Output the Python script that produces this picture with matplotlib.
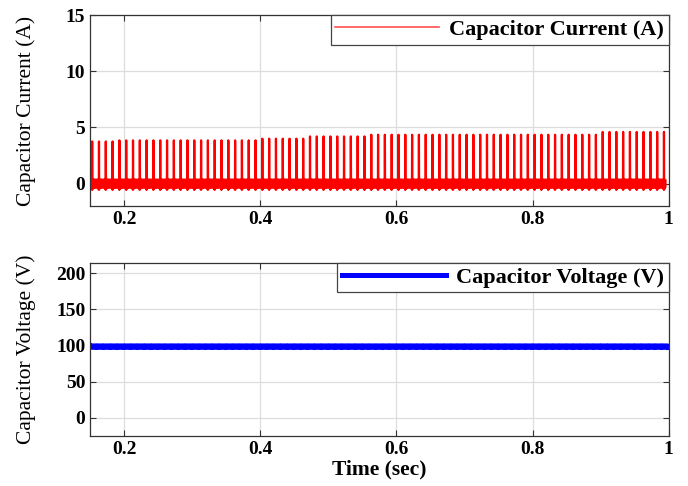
import numpy as np
import matplotlib
matplotlib.use('Agg')
import matplotlib.pyplot as plt

# switching period and first pulse (s)
period = 0.01
first_pulse = 0.153
n_pulses = 85

# peak current levels, each holding from its start time onwards
peak_starts = [0.15, 0.19, 0.40, 0.47, 0.555, 0.895]
peak_levels = [3.75, 3.85, 4.0, 4.2, 4.35, 4.6]

# one period of the capacitor current, spike slot marked with None
current_period = [0.35, -0.3, 0.3, -0.35, 0.35, -0.3, 0.3, -0.35, 0.3, -0.3,
                  0.35, -0.3, 0.3, -0.35, 0.3, -0.3, 0.35, -0.3, 0.3, -0.35,
                  0.3, -0.3, 0.35, -0.3, 0.3, -0.35, 0.3, -0.3, 0.35, -0.45,
                  -0.55, None, 0.45, -0.5, -0.4, 0.35, -0.3, 0.3, -0.35, 0.3]

# capacitor voltage: mean level and ripple over one period
v_mean = 98.5
voltage_period = [1.0, -0.8, 0.9, -1.0, 0.8, -0.9, 1.0, -0.8, 0.9, -1.0,
                  0.8, -0.9, 1.0, -0.8, 0.9, -1.0, 0.8, -0.9, 1.0, -1.5]

x_ticks = [0.2, 0.4, 0.6, 0.8, 1.0]
x_ticklabels = ['0.2', '0.4', '0.6', '0.8', '1']


def build_current():
    n = len(current_period)
    spike = current_period.index(None)
    t, i = [], []
    start = first_pulse - spike * period / n
    for k in range(n_pulses):
        t0 = start + k * period
        level = peak_levels[np.searchsorted(peak_starts, t0 + spike * period / n, side='right') - 1]
        for j, v in enumerate(current_period):
            t.append(t0 + j * period / n)
            i.append(level if v is None else v)
    return np.array(t), np.array(i)


def build_voltage():
    n = len(voltage_period)
    t, v = [], []
    t0 = 0.15
    while t0 < 1.0:
        for j, r in enumerate(voltage_period):
            t.append(t0 + j * period / n)
            v.append(v_mean + r)
        t0 += period
    return np.array(t), np.array(v)


plt.rcParams['font.family'] = 'Liberation Serif'

fig = plt.figure(figsize=(6.88, 4.86), dpi=100)
ax1 = fig.add_axes([0.131, 0.576, 0.841, 0.393])
ax2 = fig.add_axes([0.131, 0.103, 0.841, 0.356])

tc, ic = build_current()
tv, vc = build_voltage()

ax1.plot(tc, ic, color='#ff0000', lw=1.6, label='Capacitor Current (A)')
ax1.set_ylim(-2, 15)
ax1.set_yticks([0, 5, 10, 15])
ax1.set_ylabel('Capacitor Current (A)', fontsize=15.5)

ax2.plot(tv, vc, color='#0000ff', lw=3.2, label='Capacitor Voltage (V)')
ax2.set_ylim(-25, 214)
ax2.set_yticks([0, 50, 100, 150, 200])
ax2.set_ylabel('Capacitor Voltage (V)', fontsize=15.5)
ax2.set_xlabel('Time (sec)', fontsize=15.5, fontweight='bold', labelpad=1)

for ax in (ax1, ax2):
    ax.set_xlim(0.15, 1.0)
    ax.set_xticks(x_ticks)
    ax.set_xticklabels(x_ticklabels)
    ax.grid(True, color='#dddddd', lw=0.9)
    ax.set_axisbelow(True)
    ax.tick_params(direction='in', top=True, right=True, length=4,
                   labelsize=14, width=0.8, color='#333333')
    for lab in ax.get_xticklabels() + ax.get_yticklabels():
        lab.set_fontweight('bold')
    for s in ax.spines.values():
        s.set_color('#333333')
        s.set_linewidth(0.9)
    ax.yaxis.set_label_coords(-0.093, 0.5)
    leg = ax.legend(loc='upper right', borderaxespad=0, fancybox=False,
                    framealpha=1, edgecolor='#444444', handlelength=4.7,
                    prop={'weight': 'bold', 'size': 16},
                    borderpad=0.2, handletextpad=0.45)
    leg.get_frame().set_linewidth(0.9)

ax1.get_legend().get_lines()[0].set_linewidth(1.2)
ax1.get_legend().get_lines()[0].set_color('#ff5050')
ax2.get_legend().get_lines()[0].set_linewidth(3.6)

fig.savefig('out.png', dpi=100)
